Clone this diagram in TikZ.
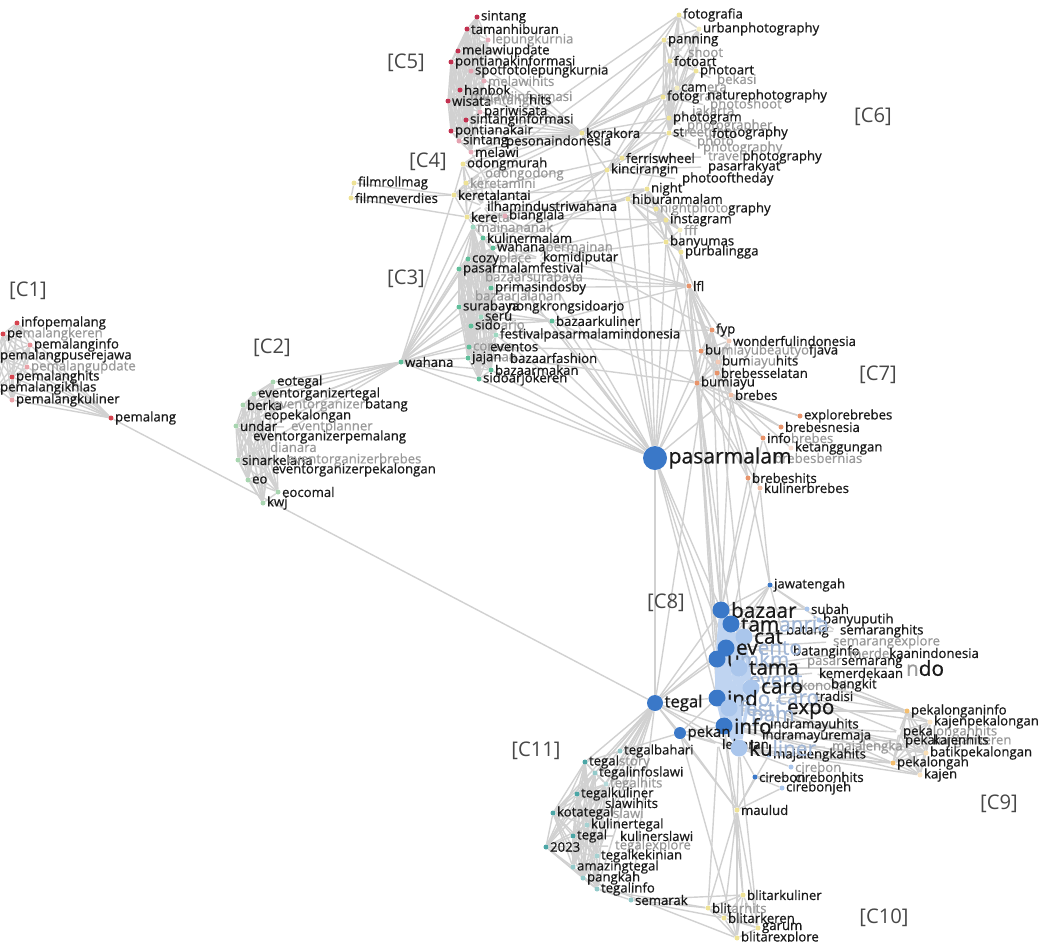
\documentclass[tikz,border=0pt]{standalone}
\usepackage{fontspec}
\setmainfont{Open Sans}
\newfontfamily\lblfont{Open Sans}[FakeBold=0.7]
\pgfdeclarelayer{bg}
\pgfsetlayers{bg,main}
\definecolor{k}{gray}{0.1}
\definecolor{g}{gray}{0.6}
\definecolor{gb}{RGB}{160,182,214}
\definecolor{edgegray}{gray}{0.82}
\definecolor{cone}{RGB}{214,69,80}
\definecolor{ctwo}{RGB}{168,213,176}
\definecolor{cthree}{RGB}{95,191,154}
\definecolor{cfour}{RGB}{238,226,150}
\definecolor{cfive}{RGB}{194,48,79}
\definecolor{cseven}{RGB}{232,148,107}
\definecolor{ceight}{RGB}{58,120,200}
\definecolor{ceightl}{RGB}{170,198,236}
\definecolor{cnine}{RGB}{244,190,110}
\definecolor{celeven}{RGB}{75,166,166}
\newcommand\allpairs[2][edge]{\foreach \a [count=\i] in {#2}{\foreach \b [count=\j] in {#2}{\ifnum\j>\i\draw[#1] (\a) -- (\b);\fi}}}
\begin{document}
\begin{tikzpicture}[x=0.02cm,y=-0.02cm,
dot/.style={circle,inner sep=0pt,minimum size=0.1cm,label distance=2.5pt},
bigdot/.style={circle,inner sep=0pt,minimum size=0.34cm,label distance=3pt},
lbl/.style={font=\lblfont\fontsize{7.5}{8}\selectfont,text=k,inner sep=0.5pt},
biglbl/.style={font=\lblfont\fontsize{11.8}{12}\selectfont,text=k,inner sep=0.5pt},
clab/.style={font=\fontsize{11.5}{12}\selectfont,text=black!72},
edge/.style={draw=edgegray,line width=0.8pt},
blueedge/.style={draw=ceightl!75,line width=2pt}]
\useasboundingbox (0,0) rectangle (1048,941);
\foreach \n/\x/\y/\t/\c/\f in {infopemalang/17/323/infopemalang/k/cone,pemalangkeren/3/334/{pe\textcolor{g}{malangkeren}}/k/cone,pemalanginfo/30/345/pemalanginfo/k/cone!60,pemalangpuserejawa/-4/356/pemalangpuserejawa/k/none,pemalangupdate/27/367/pemalangupdate/g/cone!50,pemalanghits/12/377/pemalanghits/k/cone,pemalangikhlas/-4/388/pemalangikhlas/k/cone,pemalangkuliner/12/400/pemalangkuliner/k/cone!50,pemalang/111/418/pemalang/k/cone}
\node[dot,fill=\f,label={[lbl,text=\c]right:\t}] (\n) at (\x,\y) {};
\foreach \n/\x/\y/\t/\c/\f in {eotegal/273/382/eotegal/k/ctwo,eventorganizertegal/254/394/eventorganizertegal/k/ctwo,berka/243/405/berka/k/ctwo,eventorganizerbatang/269/405/{\textcolor{g}{eventorganizer}batang}/k/none,eopekalongan/260/416/eopekalongan/k/none,undar/236/426/undar/k/ctwo,eventplanner/287/427/eventplanner/g/none,eventorganizerpemalang/249/437/eventorganizerpemalang/k/none,dianara/266/447/dianara/g/none,sinarkelana/238/460/sinarkelana/k/ctwo,eventorganizerbrebes/283/460/eventorganizerbrebes/g/none,eventorganizerpekalongan/268/470/eventorganizerpekalongan/k/none,eo/248/480/eo/k/ctwo,eocomal/278/492/eocomal/k/ctwo,kwj/263/503/kwj/k/ctwo}
\node[dot,fill=\f,label={[lbl,text=\c]right:\t}] (\n) at (\x,\y) {};
\foreach \n/\x/\y/\t/\c/\f in {wahana/401/362/wahana/k/cthree,mainananak/473/227/mainananak/g/cthree!60,kulinermalam/483/238/kulinermalam/k/cthree,wahanapermainan/493/248/{wahana\textcolor{g}{permainan}}/k/cthree,cozyplace/468/259/{cozy\textcolor{g}{place}}/k/cthree,komidiputar/539/258/komidiputar/k/none,pasarmalamfestival/459/269/pasarmalamfestival/k/cthree,bazaarsurabaya/481/278/bazaarsurabaya/g/none,primasindosby/491/288/primasindosby/k/cthree,bazaarjalanan/471/297/bazaarjalanan/g/none,surabaya/459/307/surabaya/k/cthree,nongkrongsidoarjo/504/307/nongkrongsidoarjo/k/none,seru/481/317/seru/k/cthree!60,bazaarkuliner/552/321/bazaarkuliner/k/cthree,sidoarjo/471/326/{sido\textcolor{g}{arjo}}/k/cthree,festivalpasarmalamindonesia/496/335/festivalpasarmalamindonesia/k/cthree!60,coraco/469/347/coraco/g/cthree,eventos/486/347/eventos/k/none,jajanan/468/358/{jajan\textcolor{g}{an}}/k/cthree,bazaarfashion/506/358/bazaarfashion/k/none,bazaarmakan/491/370/bazaarmakan/k/cthree,sidoarjokeren/479/379/sidoarjokeren/k/cthree}
\node[dot,fill=\f,label={[lbl,text=\c]right:\t}] (\n) at (\x,\y) {};
\foreach \n/\x/\y/\t/\c/\f in {filmrollmag/354/183/filmrollmag/k/cfour,filmneverdies/351/198/filmneverdies/k/cfour,odongmurah/463/164/odongmurah/k/cfour,odongodong/481/174/odongodong/g/none,keretamini/466/183/keretamini/g/cfour,keretalantai/454/195/keretalantai/k/cfour,ilhamindustriwahana/483/206/ilhamindustriwahana/k/none,kereta/467/217/{kere\textcolor{g}{ta}}/k/cfour,bianglala/505/216/bianglala/k/cfive!40}
\node[dot,fill=\f,label={[lbl,text=\c]right:\t}] (\n) at (\x,\y) {};
\foreach \n/\x/\y/\t/\c/\f in {sintang/477/17/sintang/k/cfive,tamanhiburan/467/29/tamanhiburan/k/cfive,lepungkurnia/488/40/lepungkurnia/g/cfive!40,melawiupdate/458/51/melawiupdate/k/cfive,pontianakinformasi/451/62/pontianakinformasi/k/cfive,spotfotolepungkurnia/471/71/spotfotolepungkurnia/k/cfive!45,melawihits/484/81/melawihits/g/cfive!40,hanbok/460/90/hanbok/k/cfive,melawiinformasi/466/96/melawiinformasi/g/none,wisata/448/101/wisata/k/cfive,sintanghits/480/101/{\textcolor{g}{sintang}hits}/k/none,pariwisata/480/112/pariwisata/k/cfive!40,sintanginformasi/466/120/sintanginformasi/k/cfive,pontianakair/451/131/pontianakair/k/cfive,sintangku/459/141/sintang/k/cfive!45,melawi/471/152/melawi/k/cfive!40}
\node[dot,fill=\f,label={[lbl,text=\c]right:\t}] (\n) at (\x,\y) {};
\foreach \n/\x/\y/\t/\c/\f in {korakora/582/133/korakora/k/cfour,pesonaindonesia/502/142/pesonaindonesia/k/none,fotografia/679/15/fotografia/k/cfour,urbanphotography/699/29/urbanphotography/k/cfour!60,panning/664/40/panning/k/cfour,shoot/684/52/shoot/g/none,fotoart/670/61/fotoart/k/cfour,photoart/696/71/photoart/k/cfour,bekasi/713/79/bekasi/g/none,camera/677/88/{cam\textcolor{g}{era}}/k/cfour!60,fotografi/663/97/{fotog\textcolor{g}{rafi}}/k/cfour,naturephotography/703/96/naturephotography/k/none,photoshoot/706/105/photoshoot/g/none,jakarta/688/112/jakarta/g/none,photogram/669/118/photogram/k/cfour,photographer/683/126/photographer/g/none,streetphotography/669/133/{st\textcolor{g}{reetphot}ography}/k/cfour,foto/708/133/foto/k/none,photo/693/142/photo/g/none,photography/699/148/photography/g/none,travelphotography/704/157/{\textcolor{g}{travel}photography}/k/none,ferriswheel/622/158/ferriswheel/k/cfour,pasarrakyat/704/167/pasarrakyat/k/none,kincirangin/607/170/kincirangin/k/cfour,photooftheday/678/179/photooftheday/k/none,night/647/189/night/k/cfour,hiburanmalam/628/199/hiburanmalam/k/cfour,nightphotography/656/209/{\textcolor{g}{nightphoto}graphy}/k/cfour,instagram/666/220/instagram/k/cfour,fff/680/230/fff/g/cfour!60,banyumas/666/242/banyumas/k/cfour,purbalingga/681/252/purbalingga/k/cfour}
\node[dot,fill=\f,label={[lbl,text=\c]right:\t}] (\n) at (\x,\y) {};
\foreach \n/\x/\y/\t/\c/\f in {lfl/689/286/lfl/k/cseven,fyp/712/330/fyp/k/cseven,wonderfulindonesia/729/341/wonderfulindonesia/k/cseven!50,bumiayubeautyofjava/701/351/{bu\textcolor{g}{miayubeautyo}fjava}/k/cseven,bumiayuhits/718/362/{bum\textcolor{g}{iayu}hits}/k/cseven!50,brebesselatan/717/373/brebesselatan/k/cseven,bumiayu/697/383/bumiayu/k/cseven,brebes/731/395/brebes/k/cseven!60,explorebrebes/800/416/explorebrebes/k/cseven,brebesnesia/781/427/brebesnesia/k/cseven,infobrebes/763/438/{info\textcolor{g}{brebes}}/k/cseven,ketanggungan/791/448/ketanggungan/k/cseven!30,brebesbernias/770/458/brebesbernias/g/none,brebeshits/748/478/brebeshits/k/cseven,kulinerbrebes/760/488/kulinerbrebes/k/cseven!60}
\node[dot,fill=\f,label={[lbl,text=\c]right:\t}] (\n) at (\x,\y) {};
\node[circle,fill=ceight,inner sep=0pt,minimum size=0.48cm,label distance=3pt,label={[font=\lblfont\fontsize{12}{13}\selectfont,text=k,inner sep=0.5pt]right:pasarmalam}] (pasarmalam) at (655,458) {};
\foreach \n/\x/\y/\t/\c/\f in {jawatengah/770/585/jawatengah/k/ceight,subah/807/609/subah/k/ceightl,banyuputih/819/620/banyuputih/k/ceightl,batang/782/631/batang/k/none,semaranghits/836/631/semaranghits/k/none,semarangexplore/829/642/semarangexplore/g/none,batanginfo/789/652/batanginfo/k/none,merdekaanindonesia/845/653/{\textcolor{g}{merde}kaanindonesia}/k/none,pasarsemarang/803/663/{\textcolor{g}{pasar}semarang}/k/none,kemerdekaan/815/673/kemerdekaan/k/none,ekonomi/789/685/ekonomi/g/none,bangkit/827/685/bangkit/k/none,tradisi/811/696/tradisi/k/none,indramayuhits/766/725/indramayuhits/k/none,indramayuremaja/758/736/indramayuremaja/k/none,lebaran/718/744/lebaran/k/none,majalengka/828/747/majalengka/g/none,majalengkahits/769/755/majalengkahits/k/ceightl,cirebon/791/767/cirebon/g/ceightl,cireboncity/755/777/cirebon/k/ceight,cirebonhits/791/777/cirebonhits/k/none,cirebonjeh/782/788/cirebonjeh/k/ceightl}
\node[dot,fill=\f,label={[lbl,text=\c]right:\t}] (\n) at (\x,\y) {};
\foreach \n/\x/\y/\t/\c/\f in {bazaar/721/610/bazaar/k/ceight,taman/731/624/{tam\textcolor{gb}{anria}}/k/ceight,cat/744/637/cat/k/ceightl,event/726/648/{ev\textcolor{gb}{ento}}/k/ceight,umkm/717/659/{u\textcolor{gb}{mkm}}/k/ceight,tama/739/668/tama/k/ceightl,event2/739/680/event/gb/none,caro/751/688/caro/k/ceightl,indo/717/698/{ind\textcolor{gb}{o}}/k/ceight,caro2/767/699/caro/gb/none,festi/729/708/festi/gb/ceightl,expo/777/711/expo/k/none,pam/741/718/pam/gb/none,info/724/726/info/k/ceight,kuliner/739/748/{ku\textcolor{gb}{liner}}/k/ceightl,c8do/896/668/{\textcolor{g}{n}do}/k/none}
\node[bigdot,fill=\f,label={[biglbl,text=\c]right:\t}] (\n) at (\x,\y) {};
\node[circle,fill=ceight,inner sep=0pt,minimum size=0.32cm,label distance=3pt,label={[font=\lblfont\fontsize{9.5}{10}\selectfont,text=k,inner sep=0.5pt]right:tegal}] (tegal) at (655,703) {};
\node[circle,fill=ceight,inner sep=0pt,minimum size=0.24cm,label distance=3pt,label={[font=\lblfont\fontsize{8.5}{9}\selectfont,text=k,inner sep=0.5pt]right:pekan}] (pekan) at (680,733) {};
\foreach \n/\x/\y/\t/\c/\f in {pekalonganinfo/907/711/pekalonganinfo/k/cnine,kajenpekalongan/930/722/kajenpekalongan/k/cnine!40,pekalonganhits/899/732/{peka\textcolor{g}{longanhits}}/k/none,pekalongankeren/901/741/{pekal\textcolor{g}{ongankeren}}/k/none,kajenhits/929/741/kajenhits/k/none,batikpekalongan/926/753/batikpekalongan/k/cnine!50,pekalongan/893/763/pekalongan/k/cnine,kajen/920/775/kajen/k/cnine!40}
\node[dot,fill=\f,label={[lbl,text=\c]right:\t}] (\n) at (\x,\y) {};
\foreach \n/\x/\y/\t/\c/\f in {maulud/737/810/maulud/k/cfour,blitarkuliner/743/895/blitarkuliner/k/cfour,blitarhits/708/908/{blit\textcolor{g}{arhits}}/k/cfour,blitarkeren/724/918/blitarkeren/k/cfour,garum/758/928/garum/k/cfour,blitarexplore/737/938/blitarexplore/k/cfour}
\node[dot,fill=\f,label={[lbl,text=\c]right:\t}] (\n) at (\x,\y) {};
\foreach \n/\x/\y/\t/\c/\f in {tegalbahari/620/751/tegalbahari/k/celeven!60,tegalstory/585/762/{tegal\textcolor{g}{story}}/k/celeven,tegalinfoslawi/595/773/tegalinfoslawi/k/celeven!60,tegalhits/606/784/tegalhits/g/celeven!40,tegalkuliner/577/794/tegalkuliner/k/celeven,slawihits/601/803/slawihits/k/none,kotategal/553/813/kotategal/k/celeven,slawi/609/813/slawi/g/none,kulinertegal/587/825/kulinertegal/k/celeven!50,tegalku/573/836/tegal/k/celeven,kulinerslawi/616/836/kulinerslawi/k/none,c2023/546/847/2023/k/celeven,tegalexplore/611/846/tegalexplore/g/none,tegalkekinian/597/856/tegalkekinian/k/celeven!50,amazingtegal/573/867/amazingtegal/k/celeven!60,pangkah/583/878/pangkah/k/celeven!60,tegalinfo/597/889/tegalinfo/k/celeven!60,semarak/631/900/semarak/k/celeven!60}
\node[dot,fill=\f,label={[lbl,text=\c]right:\t}] (\n) at (\x,\y) {};
\foreach \n/\x/\y/\t in {labC1/28/291/C1,labC2/272/348/C2,labC3/406/279/C3,labC4/428/162/C4,labC5/406/63/C5,labC6/873/117/C6,labC7/878/375/C7,labC8/666/603/C8,labC9/999/804/C9,labC10/884/918/C10,labC11/536/751/C11}
\node[clab] (\n) at (\x,\y) {[\t]};
\begin{pgfonlayer}{bg}
\allpairs{infopemalang,pemalangkeren,pemalanginfo,pemalangpuserejawa,pemalangupdate,pemalanghits,pemalangikhlas,pemalangkuliner,pemalang}
\allpairs{eotegal,eventorganizertegal,berka,eopekalongan,undar,eventorganizerpemalang,sinarkelana,eventorganizerpekalongan,eo,eocomal,kwj}
\allpairs{mainananak,kulinermalam,wahanapermainan,cozyplace,pasarmalamfestival,primasindosby,surabaya,seru,sidoarjo,festivalpasarmalamindonesia,coraco,jajanan,bazaarmakan,sidoarjokeren}
\allpairs{odongmurah,odongodong,keretamini,keretalantai,ilhamindustriwahana,kereta}
\allpairs{sintang,tamanhiburan,lepungkurnia,melawiupdate,pontianakinformasi,spotfotolepungkurnia,melawihits,hanbok,wisata,pariwisata,sintanginformasi,pontianakair,sintangku,melawi}
\allpairs{fotografia,urbanphotography,panning,fotoart,photoart,camera,fotografi,photogram,streetphotography}
\allpairs{night,hiburanmalam,nightphotography,instagram,fff,banyumas,purbalingga}
\allpairs{lfl,fyp,wonderfulindonesia,bumiayubeautyofjava,bumiayuhits,brebesselatan,bumiayu,brebes}
\allpairs{pekalonganinfo,kajenpekalongan,pekalonganhits,pekalongankeren,kajenhits,batikpekalongan,pekalongan,kajen}
\allpairs{blitarkuliner,blitarhits,blitarkeren,garum,blitarexplore}
\allpairs{tegalstory,tegalinfoslawi,tegalhits,tegalkuliner,kotategal,kulinertegal,tegalku,c2023,tegalkekinian,amazingtegal,pangkah,tegalinfo}
\foreach \a/\b in {pemalang/tegal,wahana/pasarmalam,wahana/eotegal,wahana/eventorganizertegal,wahana/berka,wahana/eopekalongan,wahana/undar,wahana/eventorganizerpemalang,wahana/sinarkelana,eventplanner/undar,dianara/sinarkelana,eventorganizerbrebes/sinarkelana,eventorganizerbatang/berka,wahana/mainananak,wahana/kulinermalam,wahana/wahanapermainan,wahana/cozyplace,wahana/pasarmalamfestival,wahana/primasindosby,wahana/surabaya,wahana/seru,wahana/sidoarjo,wahana/festivalpasarmalamindonesia,wahana/coraco,wahana/jajanan,wahana/bazaarmakan,wahana/sidoarjokeren,wahana/kereta,wahana/keretalantai,komidiputar/cozyplace,komidiputar/kulinermalam,bazaarkuliner/seru,bazaarkuliner/surabaya,bazaarkuliner/sidoarjo,bazaarkuliner/primasindosby,nongkrongsidoarjo/surabaya,bazaarsurabaya/primasindosby,bazaarjalanan/surabaya,eventos/coraco,bazaarfashion/jajanan,filmrollmag/filmneverdies,filmrollmag/keretalantai,filmneverdies/keretalantai,filmneverdies/kereta,odongmurah/korakora,keretalantai/korakora,odongmurah/fotografia,keretamini/panning,keretalantai/night,kereta/hiburanmalam,ilhamindustriwahana/kincirangin,kereta/instagram,keretalantai/ferriswheel,odongodong/camera,bianglala/kereta,bianglala/melawi,bianglala/night,kulinermalam/hiburanmalam,wahanapermainan/ferriswheel,mainananak/kincirangin,cozyplace/night,pasarmalamfestival/instagram,komidiputar/banyumas,komidiputar/kincirangin,pasarmalamfestival/lfl,komidiputar/lfl,bazaarkuliner/lfl,festivalpasarmalamindonesia/fyp,bazaarkuliner/bumiayu,coraco/bumiayubeautyofjava,bazaarfashion/bumiayu,primasindosby/lfl,kereta/lfl,ilhamindustriwahana/fyp,sidoarjokeren/pasarmalam,bazaarmakan/pasarmalam,festivalpasarmalamindonesia/pasarmalam,bazaarkuliner/pasarmalam,pasarmalamfestival/pasarmalam,kulinermalam/pasarmalam,komidiputar/pasarmalam,melawiinformasi/hanbok,sintanghits/wisata,korakora/sintanginformasi,korakora/pontianakair,korakora/sintangku,korakora/melawi,korakora/pariwisata,korakora/hanbok,korakora/pontianakinformasi,korakora/melawiupdate,korakora/tamanhiburan,pesonaindonesia/korakora,pesonaindonesia/melawi,korakora/fotografia,korakora/panning,korakora/fotoart,korakora/camera,korakora/fotografi,korakora/photogram,korakora/streetphotography,korakora/kincirangin,korakora/ferriswheel,kincirangin/fotoart,kincirangin/camera,kincirangin/photogram,kincirangin/streetphotography,ferriswheel/fotografi,ferriswheel/streetphotography,ferriswheel/photoart,streetphotography/night,photogram/hiburanmalam,shoot/panning,bekasi/photoart,naturephotography/fotografi,photoshoot/fotografi,jakarta/photogram,photographer/photogram,foto/streetphotography,photo/streetphotography,photography/streetphotography,travelphotography/ferriswheel,pasarrakyat/kincirangin,photooftheday/kincirangin,pasarmalam/night,pasarmalam/hiburanmalam,pasarmalam/kincirangin,pasarmalam/korakora,pasarmalam/kereta,pasarmalam/ilhamindustriwahana,pasarmalam/lfl,pasarmalam/fyp,pasarmalam/bumiayu,pasarmalam/brebes,pasarmalam/banyumas,pasarmalam/purbalingga,banyumas/lfl,purbalingga/lfl,instagram/fyp,purbalingga/bumiayu,banyumas/bumiayu,brebes/explorebrebes,brebes/brebesnesia,brebes/infobrebes,brebes/ketanggungan,bumiayu/explorebrebes,bumiayu/brebesnesia,bumiayu/infobrebes,brebesbernias/infobrebes,brebeshits/bumiayu,kulinerbrebes/lfl,brebeshits/lfl,kulinerbrebes/bumiayu,lfl/bazaar,fyp/bazaar,bumiayu/taman,bumiayu/event,brebes/bazaar,brebes/jawatengah,brebeshits/bazaar,kulinerbrebes/jawatengah,kulinerbrebes/taman,infobrebes/bazaar,brebesselatan/cat,lfl/info,fyp/tegal,lfl/umkm,bumiayu/indo,pasarmalam/bazaar,pasarmalam/event,pasarmalam/info,pasarmalam/tegal,pasarmalam/umkm,jawatengah/bazaar,jawatengah/taman,jawatengah/cat,jawatengah/subah,jawatengah/event,jawatengah/semaranghits,jawatengah/batang,subah/bazaar,banyuputih/taman,batang/cat,semaranghits/cat,semarangexplore/event,batanginfo/event,merdekaanindonesia/tama,pasarsemarang/tama,kemerdekaan/event2,ekonomi/caro,bangkit/caro,tradisi/caro2,indramayuhits/info,indramayuremaja/info,lebaran/kuliner,majalengka/kuliner,majalengkahits/kuliner,cirebon/kuliner,cireboncity/kuliner,cirebonhits/cireboncity,cirebonjeh/cireboncity,c8do/tama,tegal/bazaar,tegal/event,tegal/umkm,tegal/indo,tegal/info,tegal/pekan,tegal/kuliner,tegal/maulud,tegal/lebaran,tegal/taman,pekan/info,pekan/kuliner,pekan/lebaran,pekan/indo,tegalbahari/pekan,maulud/info,maulud/kuliner,maulud/lebaran,maulud/pekan,maulud/cireboncity,maulud/cirebonjeh,maulud/majalengkahits,maulud/blitarkuliner,maulud/blitarhits,maulud/blitarkeren,maulud/garum,maulud/blitarexplore,info/blitarkuliner,kuliner/garum,lebaran/blitarhits,pekan/blitarexplore,semarak/blitarkuliner,semarak/blitarhits,tegalinfo/blitarhits,pangkah/blitarexplore,semarak/blitarkeren,tegal/tegalbahari,tegal/tegalstory,tegal/tegalinfoslawi,tegal/tegalkuliner,tegal/kotategal,tegal/kulinertegal,tegal/tegalku,tegal/c2023,tegal/tegalkekinian,tegal/amazingtegal,tegal/pangkah,tegal/tegalinfo,tegal/semarak,tegal/tegalhits,slawihits/tegalkuliner,slawi/kotategal,kulinerslawi/tegalku,tegalexplore/c2023,semarak/tegalinfo,tegalbahari/tegalstory,expo/pekalonganinfo,expo/pekalongan,info/pekalongan,info/batikpekalongan,tradisi/pekalonganinfo,kuliner/pekalongan,caro2/kajenpekalongan,majalengka/pekalongan,indramayuhits/pekalonganhits,festi/pekalongankeren,tradisi/kajen,bangkit/pekalonganinfo,expo/festi,tradisi/pekalonganhits,bangkit/kajenpekalongan,kemerdekaan/pekalonganinfo,expo/batikpekalongan,info/kajen,kuliner/kajen,majalengkahits/pekalongan,indramayuremaja/pekalongankeren}
\draw[edge] (\a) -- (\b);
\allpairs[blueedge]{bazaar,taman,cat,event,umkm,tama,caro,indo,festi,info,kuliner}
\end{pgfonlayer}
\end{tikzpicture}
\end{document}
